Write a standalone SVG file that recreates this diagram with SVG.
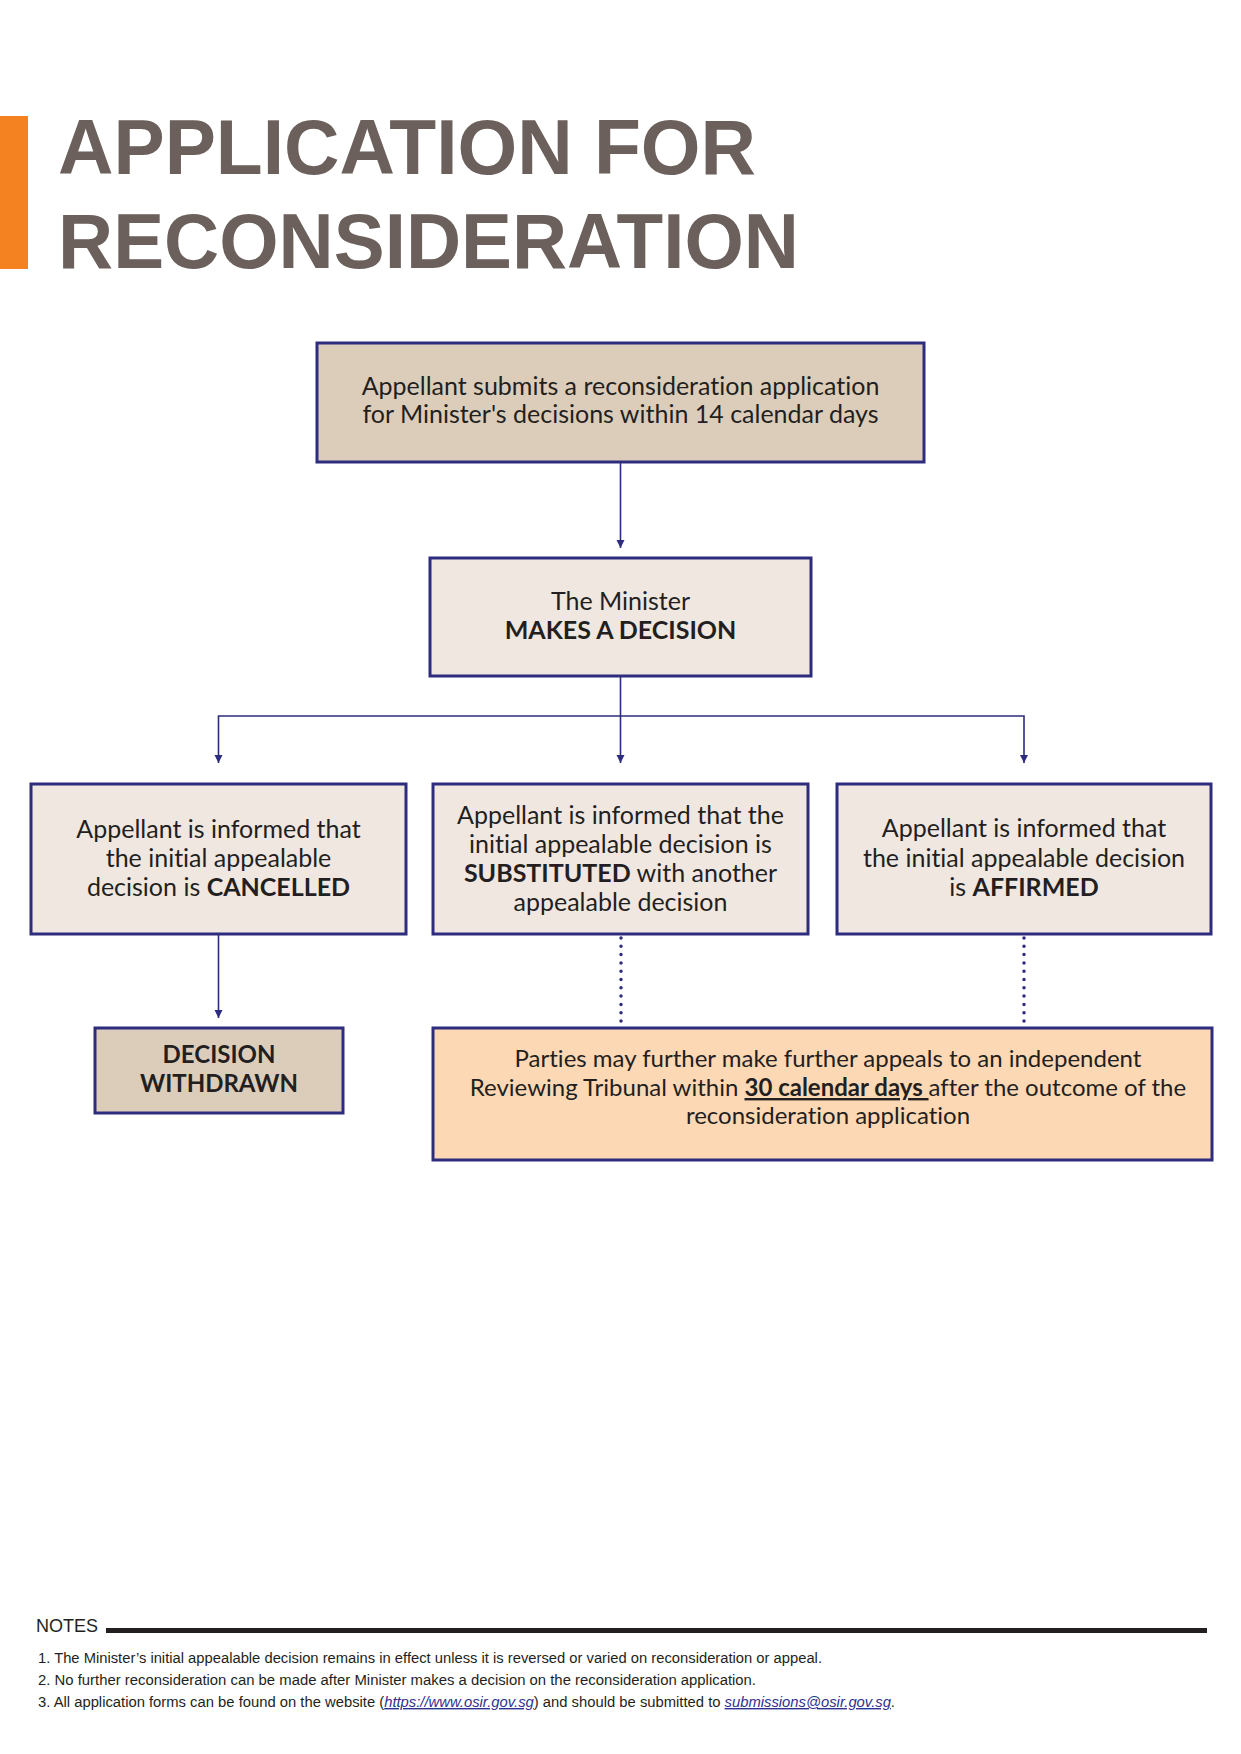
<svg xmlns="http://www.w3.org/2000/svg" width="1241" height="1754" viewBox="0 0 1241 1754">
<style>
.box{stroke:#2e2c7e;stroke-width:3}
.tan{fill:#dccdbb}
.pale{fill:#f0e7e1}
.peach{fill:#fdd8b5}
.t{font-family:Lato,"Liberation Sans",sans-serif;font-size:25px;fill:#231f20;text-anchor:middle;font-variant-ligatures:none}
.s24{font-size:24px}
.b{font-weight:bold}
.ln{fill:none;stroke:#2e2c7e;stroke-width:1.6}
.dot{fill:none;stroke:#2e2c7e;stroke-width:3.5;stroke-linecap:round;stroke-dasharray:0 8.3}
.title{font-family:"Liberation Sans",Arial,sans-serif;font-weight:bold;font-size:77px;fill:#6b605c}
.note{font-family:"Liberation Sans",Arial,sans-serif;font-size:14px;fill:#231f20}
.nh{font-size:18px}
.lnk{fill:#2e3192;font-style:italic;text-decoration:underline}
</style>
<defs>
<marker id="ah" markerUnits="userSpaceOnUse" markerWidth="10" markerHeight="10" refX="9" refY="5" orient="auto-start-reverse" viewBox="0 0 10 10">
<path d="M1,1 L9,5 L1,9 Z" fill="#2e2c7e"/>
</marker>
</defs>
<rect width="1241" height="1754" fill="#ffffff"/>
<g id="title">
<rect x="0" y="116" width="28" height="153" fill="#f58220"/>
<text class="title" x="58" y="174" textLength="698" lengthAdjust="spacingAndGlyphs">APPLICATION FOR</text>
<text class="title" x="58" y="268" textLength="741" lengthAdjust="spacingAndGlyphs">RECONSIDERATION</text>
</g>
<g id="connectors">
<line class="ln" x1="620.5" y1="462" x2="620.5" y2="548" marker-end="url(#ah)"/>
<line class="ln" x1="620.5" y1="676" x2="620.5" y2="763" marker-end="url(#ah)"/>
<polyline class="ln" points="218.5,763 218.5,716 1024,716 1024,763" marker-start="url(#ah)" marker-end="url(#ah)"/>
<line class="ln" x1="218.5" y1="934" x2="218.5" y2="1018" marker-end="url(#ah)"/>
<line class="dot" x1="621" y1="938" x2="621" y2="1025"/>
<line class="dot" x1="1024" y1="938" x2="1024" y2="1025"/>
</g>
<g id="n1">
<rect class="box tan" x="317" y="343" width="607" height="119"/>
<text class="t" x="620.5" y="395">Appellant submits a reconsideration application</text>
<text class="t" x="620.5" y="423">for Minister's decisions within 14 calendar days</text>
</g>
<g id="n2">
<rect class="box pale" x="430" y="558" width="381" height="118"/>
<text class="t" x="620.5" y="610">The Minister</text>
<text class="t b" x="620.5" y="639">MAKES A DECISION</text>
</g>
<g id="n3">
<rect class="box pale" x="31" y="784" width="375" height="150"/>
<text class="t" x="218.5" y="838">Appellant is informed that</text>
<text class="t" x="218.5" y="867">the initial appealable</text>
<text class="t" x="218.5" y="896">decision is <tspan class="b">CANCELLED</tspan></text>
</g>
<g id="n4">
<rect class="box pale" x="433" y="784" width="375" height="150"/>
<text class="t" x="620.5" y="824">Appellant is informed that the</text>
<text class="t" x="620.5" y="853">initial appealable decision is</text>
<text class="t" x="620.5" y="882"><tspan class="b">SUBSTITUTED</tspan> with another</text>
<text class="t" x="620.5" y="911">appealable decision</text>
</g>
<g id="n5">
<rect class="box pale" x="837" y="784" width="374" height="150"/>
<text class="t" x="1024" y="837">Appellant is informed that</text>
<text class="t" x="1024" y="867">the initial appealable decision</text>
<text class="t" x="1024" y="896">is <tspan class="b">AFFIRMED</tspan></text>
</g>
<g id="n6">
<rect class="box tan" x="95" y="1028" width="248" height="85"/>
<text class="t s24 b" x="219" y="1063">DECISION</text>
<text class="t s24 b" x="219" y="1092">WITHDRAWN</text>
</g>
<g id="n7">
<rect class="box peach" x="433" y="1028" width="779" height="132"/>
<text class="t s24" x="828" y="1067">Parties may further make further appeals to an independent</text>
<text class="t s24" x="828" y="1096">Reviewing Tribunal within <tspan class="b" text-decoration="underline">30 calendar days </tspan>after the outcome of the</text>
<text class="t s24" x="828" y="1124">reconsideration application</text>
</g>
<g id="notes">
<text class="note nh" x="36" y="1632">NOTES</text>
<rect x="106" y="1628" width="1101" height="5" fill="#231f20"/>
<text class="note" x="38" y="1663" textLength="784" lengthAdjust="spacingAndGlyphs">1.  The Minister’s initial appealable decision remains in effect unless it is reversed or varied on reconsideration or appeal.</text>
<text class="note" x="38" y="1685" textLength="718" lengthAdjust="spacingAndGlyphs">2. No further reconsideration can be made after Minister makes a decision on the reconsideration application.</text>
<text class="note" x="38" y="1707" textLength="857" lengthAdjust="spacingAndGlyphs">3. All application forms can be found on the website (<tspan class="lnk">https://www.osir.gov.sg</tspan>) and should be submitted to <tspan class="lnk">submissions@osir.gov.sg</tspan>.</text>
</g>
</svg>
